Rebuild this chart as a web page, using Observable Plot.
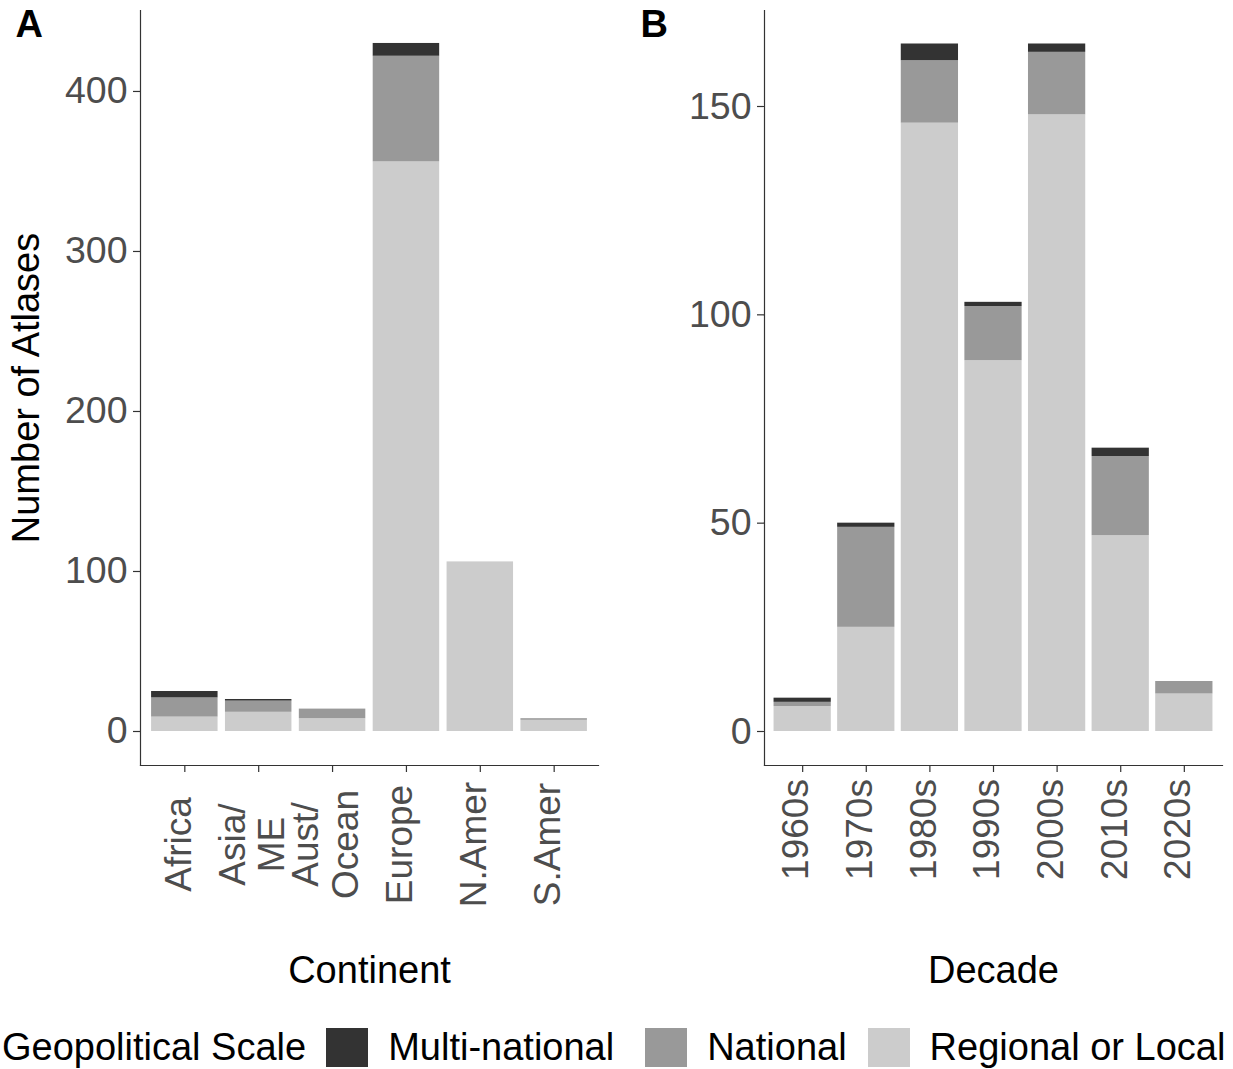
<!DOCTYPE html>
<html><head><meta charset="utf-8">
<script src="https://cdn.jsdelivr.net/npm/d3@7"></script>
<script src="https://cdn.jsdelivr.net/npm/@observablehq/plot@0.6"></script>
<style>
body{margin:0;background:#fff;}
#wrap{position:relative;width:1233px;height:1069px;font-family:"Liberation Sans",Arial,sans-serif;overflow:hidden;background:#fff}
#pA{position:absolute;left:0;top:0}
#pB{position:absolute;left:616px;top:0}
#legend{position:absolute;left:2px;top:1027px;height:40px;display:flex;align-items:center;font-size:38px;color:#000;white-space:nowrap}
.sw{width:42px;height:39px;display:inline-block}
</style></head><body>
<div id="wrap"><div id="pA"></div><div id="pB"></div><div id="legend"></div></div>
<script>
const scaleLevels = ["Multi-national", "National", "Regional or Local"];
const scaleColors = ["#333333", "#999999", "#cccccc"];
const stackOrder = ["Regional or Local", "National", "Multi-national"];

const continents = ["Africa", "Asia/\nME", "Aust/\nOcean", "Europe", "N.Amer", "S.Amer"];
const contMulti    = [4, 1, 0, 8, 0, 0];
const contNational = [12, 7, 6, 66, 0, 1];
const contRegional = [9, 12, 8, 356, 106, 7];
const contTicks = [0, 100, 200, 300, 400];

const decades = ["1960s", "1970s", "1980s", "1990s", "2000s", "2010s", "2020s"];
const decMulti    = [1, 1, 4, 1, 2, 2, 0];
const decNational = [1, 24, 15, 13, 15, 19, 3];
const decRegional = [6, 25, 146, 89, 148, 47, 9];
const decTicks = [0, 50, 100, 150];

function toRows(cats, multi, nat, reg) {
  const rows = [];
  cats.forEach((c, i) => {
    rows.push({cat: c, scale: "Regional or Local", value: reg[i]});
    rows.push({cat: c, scale: "National", value: nat[i]});
    rows.push({cat: c, scale: "Multi-national", value: multi[i]});
  });
  return rows;
}

const FONT = "Liberation Sans, Arial, sans-serif";

function panel(o) {
  const H = 1000, MT = 10, MB = 235;
  const marks = [
    Plot.barY(o.rows, {x: "cat", y: "value", fill: "scale", order: stackOrder}),
    Plot.frame({anchor: "left", stroke: "#333333", strokeWidth: 1.2}),
    Plot.frame({anchor: "bottom", stroke: "#333333", strokeWidth: 1.2}),
    Plot.axisY({ticks: o.yTicks, tickSize: 7, tickPadding: 6, stroke: "#333333", strokeWidth: 1.2,
      fill: "#4d4d4d", fontSize: 37.5, fontFamily: FONT, label: null}),
    Plot.axisX({tickSize: 7, stroke: "#333333", strokeWidth: 1.2, fill: "none", label: null}),
    Plot.text(o.cats, {x: d => d, text: d => d, frameAnchor: "bottom", dx: -7, dy: o.labelDy, rotate: -90,
      textAnchor: "middle", lineAnchor: "middle", lineHeight: 1.08, fontSize: 37, fill: "#4d4d4d", fontFamily: FONT}),
    Plot.text([o.xTitle], {frameAnchor: "bottom", dy: 205, textAnchor: "middle", lineAnchor: "middle",
      fontSize: 38, fill: "#000", fontFamily: FONT}),
    Plot.text([o.letter], {frameAnchor: "top-left", dx: o.letterDx, dy: 0, textAnchor: "start", lineAnchor: "top",
      fontSize: 38, fontWeight: "bold", fill: "#000", fontFamily: FONT})
  ];
  if (o.yTitle) {
    marks.push(Plot.text([o.yTitle], {frameAnchor: "left", dx: -114, rotate: -90, textAnchor: "middle",
      lineAnchor: "middle", fontSize: 38, fill: "#000", fontFamily: FONT}));
  }
  return Plot.plot({
    width: o.width, height: H,
    marginTop: MT, marginBottom: MB, marginLeft: o.marginLeft, marginRight: o.marginRight,
    style: {fontFamily: FONT, background: "white", overflow: "visible"},
    x: {domain: o.cats, paddingInner: 0.1, paddingOuter: 0.15, round: false},
    y: {domain: o.yDomain},
    color: {domain: scaleLevels, range: scaleColors},
    marks
  });
}

document.getElementById("pA").append(panel({
  cats: continents, rows: toRows(continents, contMulti, contNational, contRegional),
  width: 616, marginLeft: 140, marginRight: 18, yDomain: [-21.25, 450.6], yTicks: contTicks,
  letter: "A", letterDx: -125, labelDy: 79, xTitle: "Continent", yTitle: "Number of Atlases"
}));
document.getElementById("pB").append(panel({
  cats: decades, rows: toRows(decades, decMulti, decNational, decRegional),
  width: 617, marginLeft: 148, marginRight: 11, yDomain: [-8.16, 173.04], yTicks: decTicks,
  letter: "B", letterDx: -124, labelDy: 64, xTitle: "Decade", yTitle: null
}));

// legend
const legendGaps = [20, 31, 21];
const legend = document.getElementById("legend");
const title = document.createElement("span");
title.textContent = "Geopolitical Scale";
legend.append(title);
scaleLevels.forEach((lv, i) => {
  const sw = document.createElement("span");
  sw.className = "sw";
  sw.style.background = scaleColors[i];
  sw.style.marginLeft = legendGaps[i] + "px";
  sw.style.marginRight = "20px";
  const t = document.createElement("span");
  t.textContent = lv;
  legend.append(sw, t);
});
</script>
</body></html>
